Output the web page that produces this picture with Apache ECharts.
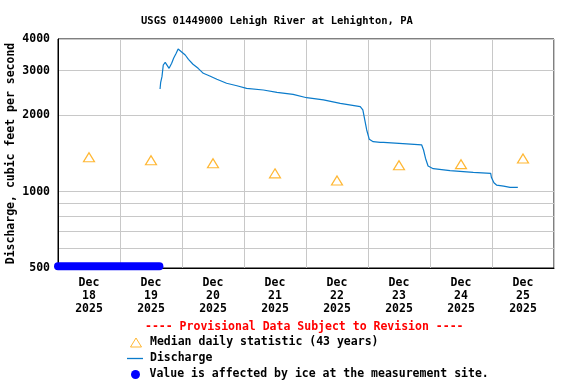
<!DOCTYPE html>
<html>
<head>
<meta charset="utf-8">
<script src="https://cdn.jsdelivr.net/npm/echarts@6/dist/echarts.min.js"></script>
<style>html,body{margin:0;padding:0;background:#fff;}#c{width:576px;height:384px;}</style>
</head>
<body>
<div id="c"></div>
<script>
const titleText = 'USGS 01449000 Lehigh River at Lehighton, PA';
const yAxisName = 'Discharge, cubic feet per second';
const provisionalText = '---- Provisional Data Subject to Revision ----';
const seriesNames = ['Median daily statistic (43 years)', 'Discharge', 'Value is affected by ice at the measurement site.'];

const xMin = '2025-12-18 00:00';
const xMax = '2025-12-26 00:00';
const xGridTimes = ['2025-12-18 00:00','2025-12-19 00:00','2025-12-20 00:00','2025-12-21 00:00','2025-12-22 00:00','2025-12-23 00:00','2025-12-24 00:00','2025-12-25 00:00','2025-12-26 00:00'];
const xTickTimes = ['2025-12-18 12:00','2025-12-19 12:00','2025-12-20 12:00','2025-12-21 12:00','2025-12-22 12:00','2025-12-23 12:00','2025-12-24 12:00','2025-12-25 12:00'];
const xTickLabels = ['Dec\n18\n2025','Dec\n19\n2025','Dec\n20\n2025','Dec\n21\n2025','Dec\n22\n2025','Dec\n23\n2025','Dec\n24\n2025','Dec\n25\n2025'];

const yMin = 500;
const yMax = 4000;
const yLabelValues = [500, 1000, 2000, 3000, 4000];
const yGridValues = [500, 600, 700, 800, 900, 1000, 2000, 3000, 4000];

const medianTimes = ['2025-12-18 12:00','2025-12-19 12:00','2025-12-20 12:00','2025-12-21 12:00','2025-12-22 12:00','2025-12-23 12:00','2025-12-24 12:00','2025-12-25 12:00'];
const medianValues = [1366, 1330, 1294, 1181, 1107, 1271, 1284, 1352];

const dischargeTimes = [
  '2025-12-19 15:30','2025-12-19 15:45','2025-12-19 16:15','2025-12-19 16:45','2025-12-19 17:30','2025-12-19 18:00',
  '2025-12-19 19:00','2025-12-19 19:45','2025-12-19 20:00','2025-12-19 20:45','2025-12-19 21:45','2025-12-19 22:30',
  '2025-12-19 23:15','2025-12-19 23:45','2025-12-20 01:15','2025-12-20 02:30','2025-12-20 04:15','2025-12-20 06:15',
  '2025-12-20 08:15','2025-12-20 10:45','2025-12-20 13:30','2025-12-20 17:15','2025-12-20 21:15','2025-12-21 01:00',
  '2025-12-21 07:30','2025-12-21 12:45','2025-12-21 19:00','2025-12-22 00:15','2025-12-22 06:45','2025-12-22 13:15',
  '2025-12-22 21:00','2025-12-22 22:00','2025-12-22 22:45','2025-12-22 23:30','2025-12-23 00:30','2025-12-23 02:00',
  '2025-12-23 04:45','2025-12-23 06:00','2025-12-23 15:00','2025-12-23 20:45','2025-12-23 21:30','2025-12-23 22:15',
  '2025-12-23 23:15','2025-12-24 01:15','2025-12-24 07:45','2025-12-24 16:45','2025-12-24 23:30','2025-12-24 23:45',
  '2025-12-25 00:45','2025-12-25 01:45','2025-12-25 04:30','2025-12-25 07:00','2025-12-25 10:00'
];
const dischargeValues = [
  2540, 2700, 2842, 3159, 3237, 3181,
  3065, 3065, 3210, 3357, 3513, 3652,
  3652, 3565, 3459, 3327, 3181, 3065,
  2929, 2860, 2776, 2676, 2616, 2556,
  2517, 2465, 2419, 2347, 2300, 2231,
  2164, 2100, 1918, 1751, 1609, 1575,
  1565, 1565, 1544, 1530, 1460, 1355,
  1262, 1232, 1211, 1192, 1181, 1140,
  1085, 1062, 1052, 1040, 1040
];

const iceTimes = ['2025-12-18 00:00', '2025-12-19 15:15'];
const iceValues = [508, 508];

const FONT = 'DejaVu Sans Mono';
const ORANGE = '#FFA500';
const BLUE = '#0A7BCB';
const ICE = '#0000FF';

function ms(s) { return +echarts.time.parse(s); }
function zip(t, v) { return t.map((x, i) => [ms(x), v[i]]); }
const tickMs = xTickTimes.map(ms);

const legendIcons = [
  { icon: 'path://M5.5,0L11,9L0,9Z', itemStyle: { color: 'rgba(0,0,0,0)', borderColor: ORANGE, borderWidth: 1 } },
  { icon: 'path://M0,0H16V1.3H0Z', itemStyle: { color: BLUE } },
  { icon: 'circle', itemStyle: { color: ICE } }
];
const legendLayout = [
  { left: 130, itemWidth: 18, pad: 0 },
  { left: 127, itemWidth: 16, pad: 2 },
  { left: 131, itemWidth: 18, pad: 0 }
];
const legends = seriesNames.map((name, i) => ({
  orient: 'vertical', left: legendLayout[i].left, top: 336.5 + i * 16, padding: 0,
  itemWidth: legendLayout[i].itemWidth, itemHeight: 9, itemGap: 0, selectedMode: false,
  textStyle: { fontFamily: FONT, fontSize: 11.5, fontWeight: 'bold', color: '#000', padding: [0, 0, 0, legendLayout[i].pad] },
  data: [Object.assign({ name: name }, legendIcons[i])]
}));

const chart = echarts.init(document.getElementById('c'), null, { renderer: 'canvas' });
chart.setOption({
  animation: false,
  backgroundColor: '#fff',
  title: {
    text: titleText,
    left: 136, top: 11, padding: 5,
    textStyle: { fontFamily: FONT, fontSize: 10.5, fontWeight: 'bold', color: '#000' }
  },
  grid: { left: 58, right: 22, top: 39, bottom: 116, outerBoundsMode: 'none', containLabel: false, show: true, borderColor: '#000', borderWidth: 1, backgroundColor: 'transparent' },
  xAxis: {
    type: 'value', min: ms(xMin), max: ms(xMax),
    axisLine: { show: true, lineStyle: { color: '#000', width: 1 } },
    axisTick: { show: false, customValues: xGridTimes.map(ms) },
    splitLine: { show: true, lineStyle: { color: '#c8c8c8', width: 1 } },
    axisLabel: {
      customValues: tickMs,
      margin: 9,
      fontFamily: FONT, fontSize: 11.5, fontWeight: 'bold', color: '#000', lineHeight: 13,
      formatter: function (value) {
        let best = 0, bd = Infinity;
        for (let i = 0; i < tickMs.length; i++) { const d = Math.abs(tickMs[i] - value); if (d < bd) { bd = d; best = i; } }
        return xTickLabels[best];
      }
    }
  },
  yAxis: {
    type: 'log', logBase: 10, min: yMin, max: yMax,
    name: yAxisName, nameLocation: 'middle', nameGap: 41, nameRotate: 90, nameMoveOverlap: false,
    nameTextStyle: { fontFamily: FONT, fontSize: 11.5, fontWeight: 'bold', color: '#000' },
    axisLine: { show: true, lineStyle: { color: '#000', width: 1 } },
    axisTick: { show: false, customValues: yGridValues },
    splitLine: { show: true, lineStyle: { color: '#c8c8c8', width: 1 } },
    minorTick: { show: false }, minorSplitLine: { show: false },
    axisLabel: {
      customValues: yLabelValues, margin: 8, padding: [2, 0, 0, 0],
      fontFamily: FONT, fontSize: 11.5, fontWeight: 'bold', color: '#000',
      formatter: v => String(Math.round(v))
    }
  },
  legend: legends,
  graphic: [{
    type: 'text', left: 145, top: 321,
    style: { text: provisionalText, fill: '#FF0000', font: 'bold 11.5px "DejaVu Sans Mono"' }
  }],
  series: [
    {
      name: seriesNames[1], type: 'line', data: zip(dischargeTimes, dischargeValues),
      symbol: 'none', lineStyle: { color: BLUE, width: 1.2 }, itemStyle: { color: BLUE }, z: 3
    },
    {
      name: seriesNames[2], type: 'line', data: zip(iceTimes, iceValues),
      symbol: 'none', clip: false, lineStyle: { color: ICE, width: 8, cap: 'round' }, itemStyle: { color: ICE }, z: 4
    },
    {
      name: seriesNames[0], type: 'scatter', data: zip(medianTimes, medianValues),
      symbol: 'triangle', symbolSize: [11, 9],
      itemStyle: { color: 'rgba(0,0,0,0)', borderColor: ORANGE, borderWidth: 1.2 }, z: 5
    }
  ]
});
</script>
</body>
</html>
